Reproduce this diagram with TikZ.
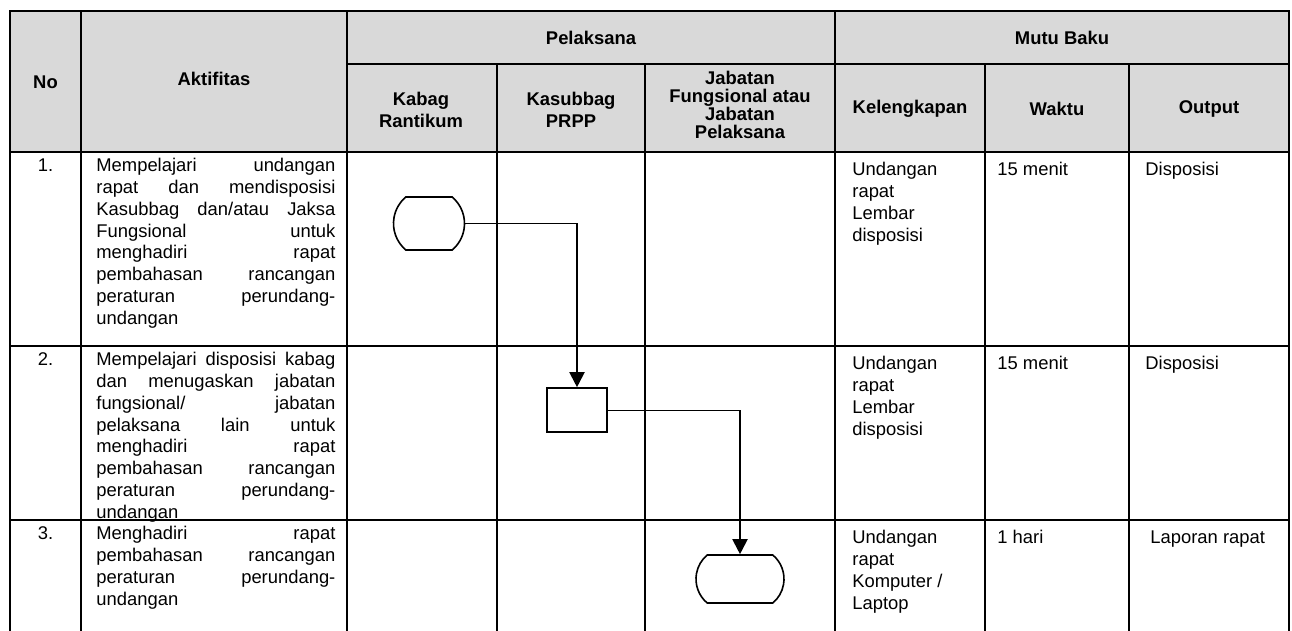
\documentclass[tikz,border=0pt]{standalone}
\usepackage{fontspec}
\setmainfont{Liberation Sans}
\usetikzlibrary{arrows.meta,shapes.misc}

\definecolor{kelabu}{HTML}{D9D9D9}
\newcommand{\rata}[1]{\leavevmode\hbox to 119.5pt{\spaceskip=0.3em plus 1fill\relax #1}}

\begin{document}
\begin{tikzpicture}[x=0.5pt,y=-0.5pt,
  every node/.style={font=\fontsize{9.2}{10.9}\selectfont},
  garis/.style={line width=1pt, line cap=rect},
  tipis/.style={line width=0.5pt},
  kepala/.style={font=\fontsize{9.2}{10.9}\selectfont\bfseries, align=center},
  isi/.style={anchor=north west, inner sep=0pt, align=left},
  nomor/.style={anchor=north, inner sep=0pt},
  terminal/.style={draw, line width=0.8pt, rounded rectangle, rounded rectangle arc length=100,
    minimum width=35.5pt, minimum height=26.5pt, inner sep=0pt},
  proses/.style={draw, line width=0.8pt, minimum width=30pt, minimum height=22pt, inner sep=0pt},
  alur/.style={line width=1pt, -{Triangle[width=7.5pt,length=7.5pt]}}]
  \useasboundingbox (0,0) rectangle (1292,631);

  % header and grid
  \fill[kelabu] (10,11) rectangle (1289,152);
  \draw[garis] (10,11) -- (1289,11);
  \draw[garis] (347,64) -- (1289,64);
  \foreach \y in {152,346,520} \draw[garis] (10,\y) -- (1289,\y);
  \foreach \x in {10,81,347,835,1289} \draw[garis] (\x,11) -- (\x,631);
  \foreach \x in {497,645,985,1129} \draw[garis] (\x,64) -- (\x,631);

  \node[kepala] (no) at (45.5,82) {No};
  \node[kepala] (akt) at (214,79) {Aktifitas};
  \node[kepala] (pel) at (591,37.5) {Pelaksana};
  \node[kepala] (mutu) at (1062,37.5) {Mutu Baku};
  \node[kepala] (kabag) at (421,110) {Kabag\\Rantikum};
  \node[kepala] (kasub) at (571,110) {Kasubbag\\PRPP};
  \node[kepala, font=\fontsize{9.2}{8.9}\selectfont\bfseries] (jab) at (740,105) {Jabatan\\Fungsional atau\\Jabatan\\Pelaksana};
  \node[kepala] (kel) at (910,109) {Kelengkapan};
  \node[kepala] (wkt) at (1057,109) {Waktu};
  \node[kepala] (outp) at (1209,109) {Output};

  % row 1
  \node[nomor] (n1) at (45.5,158) {1.};
  \node[isi, text width=119.5pt] (a1) at (96,158) {\rata{Mempelajari undangan}\\
    \rata{rapat dan mendisposisi}\\ \rata{Kasubbag dan/atau Jaksa}\\
    \rata{Fungsional untuk}\\ \rata{menghadiri rapat}\\ \rata{pembahasan rancangan}\\
    \rata{peraturan perundang-}\\ undangan};
  \node[isi] (k1) at (852,162) {Undangan\\rapat\\Lembar\\disposisi};
  \node[isi] (w1) at (997,162) {15 menit};
  \node[isi] (o1) at (1145,162) {Disposisi};

  % row 2
  \node[nomor] (n2) at (45.5,352) {2.};
  \node[isi, text width=119.5pt] (a2) at (96,352) {\rata{Mempelajari disposisi kabag}\\
    \rata{dan menugaskan jabatan}\\ \rata{fungsional/ jabatan}\\
    \rata{pelaksana lain untuk}\\ \rata{menghadiri rapat}\\ \rata{pembahasan rancangan}\\
    \rata{peraturan perundang-}\\ undangan};
  \node[isi] (k2) at (852,356) {Undangan\\rapat\\Lembar\\disposisi};
  \node[isi] (w2) at (997,356) {15 menit};
  \node[isi] (o2) at (1145,356) {Disposisi};

  % row 3
  \node[nomor] (n3) at (45.5,526) {3.};
  \node[isi, text width=119.5pt] (a3) at (96,526) {\rata{Menghadiri rapat}\\
    \rata{pembahasan rancangan}\\ \rata{peraturan perundang-}\\ undangan};
  \node[isi] (k3) at (852,530) {Undangan\\rapat\\Komputer /\\Laptop};
  \node[isi] (w3) at (997,530) {1 hari};
  \node[isi] (o3) at (1150,530) {Laporan rapat};

  % flow
  \node[terminal] (mulai) at (429,223.5) {};
  \node[proses] (tugas) at (577,410) {};
  \node[terminal, minimum width=44pt, minimum height=24pt] (hadir) at (740,579) {};

  \coordinate (b1) at (mulai.east -| tugas.north);
  \coordinate (b2) at (tugas.east -| hadir.north);
  \draw[tipis] (mulai.east) -- (b1);
  \draw[alur] (b1) -- (tugas.north);
  \draw[tipis] (tugas.east) -- (b2);
  \draw[alur] (b2) -- (hadir.north);
\end{tikzpicture}
\end{document}
